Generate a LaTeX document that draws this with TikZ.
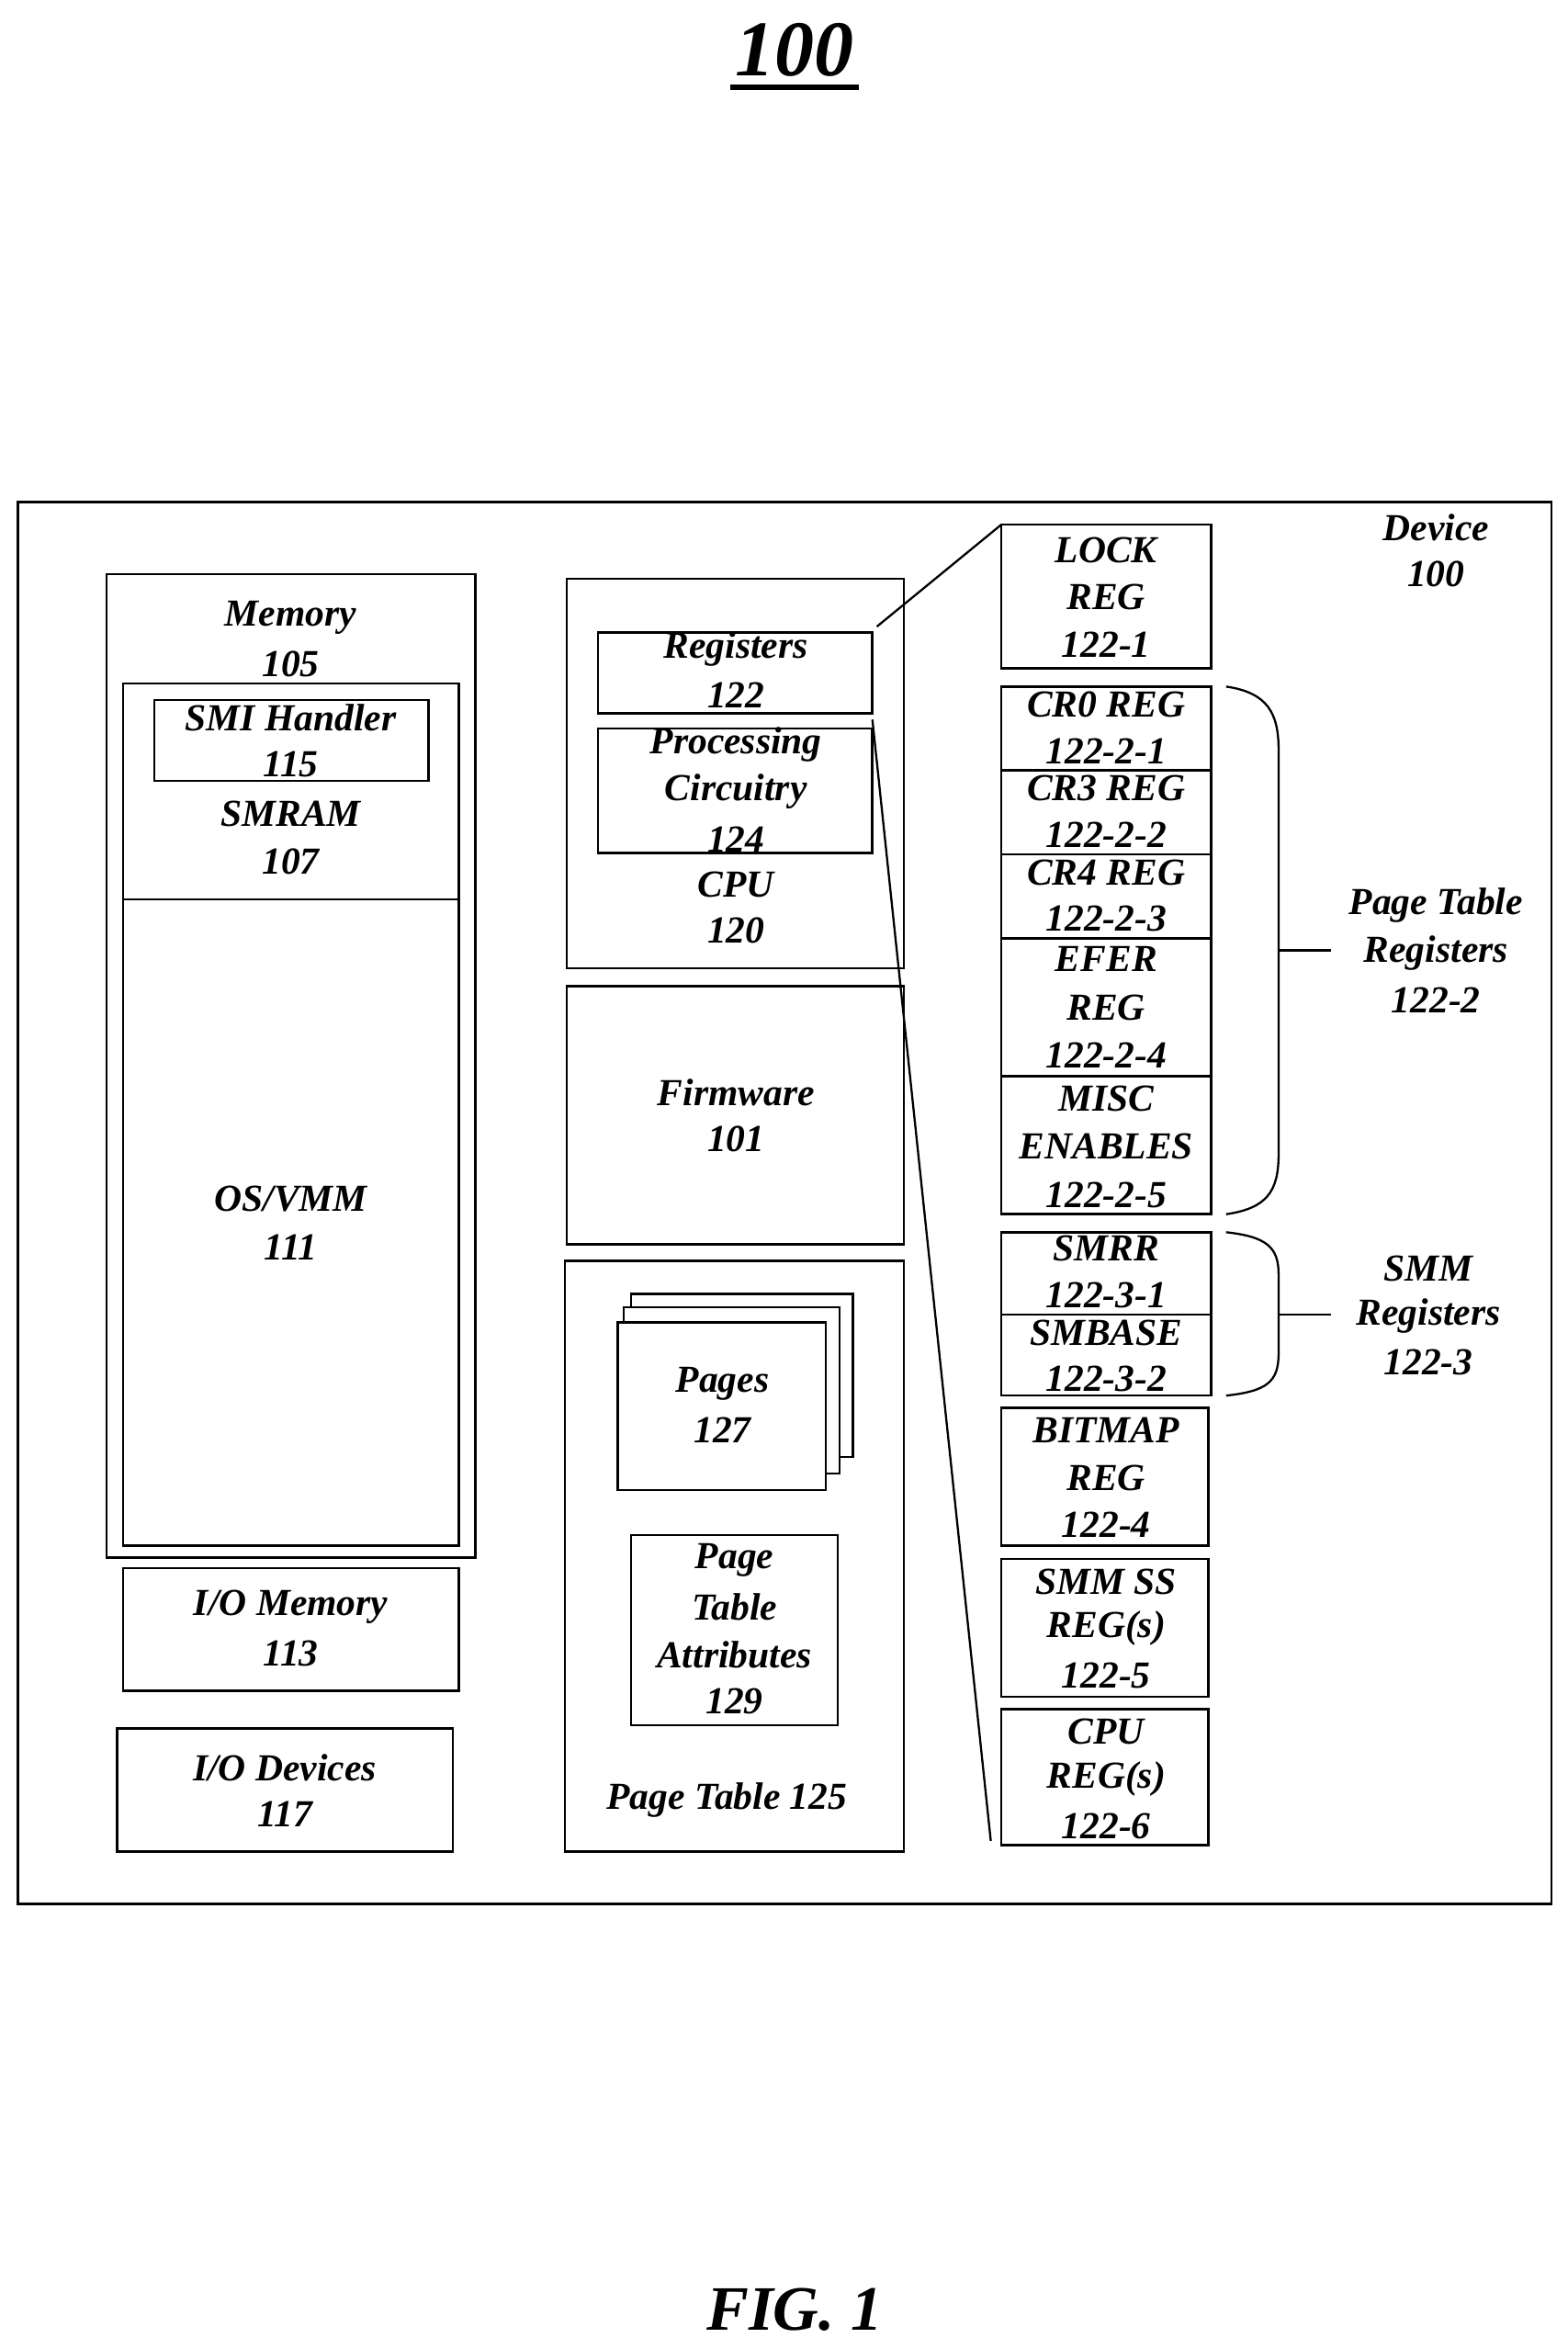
\documentclass[tikz,border=0pt]{standalone}
\usepackage{fontspec}
\setmainfont{Liberation Serif}
\begin{document}
\begin{tikzpicture}[x=0.02cm,y=-0.02cm,
  box/.style={draw,line width=0.9pt},
  lbl/.style={font=\fontsize{14.5}{16}\selectfont\bfseries\itshape,inner sep=0pt},
  ln/.style={line width=0.8pt}]
\useasboundingbox (0,0) rectangle (1046,1567);
\node[lbl,font=\fontsize{30}{32}\selectfont\bfseries\itshape] (title) at (530,33) {100};
\draw[line width=2pt] (487,58) -- (573,58);
\node[lbl,font=\fontsize{24}{28}\selectfont\bfseries\itshape] (fig) at (530,1541) {FIG. 1};
\draw[box] (12,335) rectangle (1035,1270);
\node[lbl] (dev) at (958,352) {Device};
\node[lbl] (dev2) at (958,383) {100};
% memory
\draw[box] (71,383) rectangle (317,1039);
\node[lbl] (m1) at (194,412) {Memory};
\node[lbl] (m2) at (194,443) {105};
\draw[box] (82,456) rectangle (306,600);
\draw[box] (103,467) rectangle (286,521);
\node[lbl] (s1) at (194,479) {SMI Handler};
\node[lbl] (s2) at (194,510) {115};
\node[lbl] (r1) at (194,543) {SMRAM};
\node[lbl] (r2) at (194,575) {107};
\draw[box] (82,600) rectangle (306,1031);
\node[lbl] (o1) at (194,800) {OS/VMM};
\node[lbl] (o2) at (194,832) {111};
\draw[box] (82,1046) rectangle (306,1128);
\node[lbl] (i1) at (194,1072) {I/O Memory};
\node[lbl] (i2) at (194,1103) {113};
\draw[box] (78,1153) rectangle (302,1235);
\node[lbl] (d1) at (190,1179) {I/O Devices};
\node[lbl] (d2) at (190,1210) {117};
% cpu
\draw[box] (378,386) rectangle (603,646);
\draw[box] (399,422) rectangle (582,476);
\node[lbl] (g1) at (491,433) {Registers};
\node[lbl] (g2) at (491,464) {122};
\draw[box] (399,486) rectangle (582,569);
\node[lbl] (p1) at (491,497) {Processing};
\node[lbl] (p2) at (491,528) {Circuitry};
\node[lbl] (p3) at (491,560) {124};
\node[lbl] (c1) at (491,590) {CPU};
\node[lbl] (c2) at (491,621) {120};
\draw[box] (378,658) rectangle (603,830);
\node[lbl] (f1) at (491,729) {Firmware};
\node[lbl] (f2) at (491,760) {101};
\draw[box] (377,841) rectangle (603,1235);
\draw[box,fill=white] (421,863) rectangle (569,972);
\draw[box,fill=white] (416,872) rectangle (560,983);
\draw[box,fill=white] (412,882) rectangle (551,994);
\node[lbl] (pg1) at (482,923) {Pages};
\node[lbl] (pg2) at (482,954) {127};
\draw[box] (421,1024) rectangle (559,1151);
\node[lbl] (a1) at (490,1041) {Page};
\node[lbl] (a2) at (490,1072) {Table};
\node[lbl] (a3) at (490,1104) {Attributes};
\node[lbl] (a4) at (490,1135) {129};
\node[lbl] (pt) at (485,1201) {Page Table 125};
% right column
\foreach \ya/\yb in {350/446,458/514,514/570,570/626,626/718,718/810,822/877,877/931}
  \draw[box] (668,\ya) rectangle (808,\yb);
\foreach \ya/\yb in {939/1031,1040/1132,1140/1231}
  \draw[box] (668,\ya) rectangle (806,\yb);
\foreach \t/\y [count=\i] in {LOCK/367,REG/398,122-1/430,CR0 REG/470,122-2-1/501,CR3 REG/526,122-2-2/557,CR4 REG/582,122-2-3/613,EFER/640,REG/672,122-2-4/704,MISC/733,ENABLES/765,122-2-5/797,SMRR/833,122-3-1/864,SMBASE/889,122-3-2/920,BITMAP/954,REG/986,122-4/1017,SMM SS/1055,REG(s)/1086,122-5/1118,CPU/1155,REG(s)/1187,122-6/1218}
  \node[lbl] (rc\i) at (738,\y) {\t};
\coordinate (l1a) at (585,418); \coordinate (l1b) at (668,350);
\coordinate (l2a) at (582,480); \coordinate (l2b) at (661,1228);
\draw[ln] (l1a) -- (l1b);
\draw[ln] (l2a) -- (l2b);
% braces
\draw[ln] (818,458) .. controls (845,462) and (853,475) .. (853,500) -- (853,770) .. controls (853,795) and (845,806) .. (818,810);
\draw[ln] (853,634) -- (888,634);
\node[lbl] (b1) at (958,604) {Page Table};
\node[lbl] (b2) at (958,636) {Registers};
\node[lbl] (b3) at (958,667) {122-2};
\draw[ln] (818,822) .. controls (845,825) and (853,832) .. (853,850) -- (853,903) .. controls (853,922) and (845,928) .. (818,931);
\draw[ln] (853,877) -- (888,877);
\node[lbl] (e1) at (953,846) {SMM};
\node[lbl] (e2) at (953,878) {Registers};
\node[lbl] (e3) at (953,909) {122-3};
\end{tikzpicture}
\end{document}
